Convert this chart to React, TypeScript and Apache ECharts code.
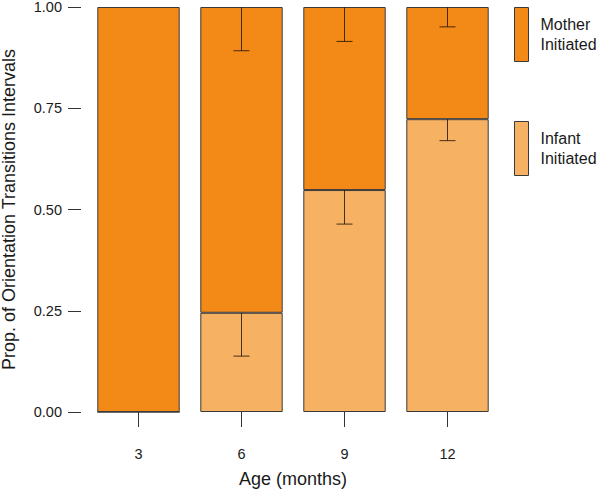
import React, { useEffect, useRef } from "react";
import * as echarts from "echarts";

const ages = ["3", "6", "9", "12"];
const infantInitiated = [0, 0.245, 0.548, 0.723];
const motherInitiated = [1, 0.755, 0.452, 0.277];
const infantErr = [0, 0.107, 0.084, 0.053];
const motherErr = [0, 0.108, 0.085, 0.049];
const yTicks = [0, 0.25, 0.5, 0.75, 1];

const FONT = "'Liberation Sans', Arial, Helvetica, sans-serif";
const DARK = "#F38A18";
const LIGHT = "#F6B163";
const BORDER = "#3a3a3a";
const TXT = "#1a1a1a";

export default function App() {
  const ref = useRef<HTMLDivElement>(null);
  useEffect(() => {
    document.body.style.margin = "0";
    const chart = echarts.init(ref.current!, null, { renderer: "svg" });
    const errData: number[][] = [];
    ages.forEach((_, i) => {
      if (infantErr[i] > 0) {
        errData.push([i, infantInitiated[i], infantInitiated[i] - infantErr[i]]);
      }
      if (motherErr[i] > 0) {
        const top = infantInitiated[i] + motherInitiated[i];
        errData.push([i, top, top - motherErr[i]]);
      }
    });
    chart.setOption({
      animation: false,
      textStyle: { fontFamily: FONT },
      grid: { left: 87, right: 101, top: 7, bottom: 83, outerBoundsMode: "none", containLabel: false },
      legend: {
        data: ["Mother Initiated", "Infant Initiated"],
        orient: "vertical",
        left: 514,
        top: 7,
        padding: 0,
        itemWidth: 14,
        itemHeight: 54,
        itemGap: 59,
        icon: "rect",
        selectedMode: false,
        formatter: (n: string) => n.replace(" ", "\n"),
        textStyle: {
          fontFamily: FONT,
          fontSize: 16,
          lineHeight: 20,
          color: TXT,
          padding: [0, 0, 0, 7],
        },
        itemStyle: { borderColor: BORDER, borderWidth: 1 },
      },
      xAxis: {
        type: "category",
        data: ages,
        offset: 13,
        axisLine: { show: false },
        axisTick: {
          show: true,
          alignWithLabel: true,
          length: 15,
          lineStyle: { color: "#333", width: 1 },
        },
        axisLabel: { fontSize: 14.5, color: TXT, margin: 21, fontFamily: FONT },
        name: "Age (months)",
        nameLocation: "middle",
        nameGap: 45,
        nameTextStyle: { fontSize: 18, color: TXT, fontFamily: FONT },
        splitLine: { show: false },
      },
      yAxis: {
        type: "value",
        min: yTicks[0],
        max: yTicks[yTicks.length - 1],
        interval: 0.25,
        offset: 6,
        axisLine: { show: false },
        axisTick: { show: true, length: 13, lineStyle: { color: "#333", width: 1 } },
        axisLabel: {
          fontSize: 14.5,
          color: TXT,
          margin: 19,
          fontFamily: FONT,
          formatter: (v: number) => v.toFixed(2),
        },
        splitLine: { show: false },
        name: "Prop. of Orientation Transitions Intervals",
        nameLocation: "middle",
        nameGap: 63,
        nameTextStyle: { fontSize: 18, color: TXT, fontFamily: FONT },
      },
      series: [
        {
          name: "Infant Initiated",
          type: "bar",
          stack: "total",
          barWidth: "80%",
          data: infantInitiated,
          itemStyle: { color: LIGHT, borderColor: BORDER, borderWidth: 1 },
        },
        {
          name: "Mother Initiated",
          type: "bar",
          stack: "total",
          barWidth: "80%",
          data: motherInitiated,
          itemStyle: { color: DARK, borderColor: BORDER, borderWidth: 1 },
        },
        {
          name: "err",
          type: "custom",
          z: 5,
          data: errData,
          renderItem: (params: any, api: any) => {
            const x = api.value(0);
            const p1 = api.coord([x, api.value(1)]);
            const p2 = api.coord([x, api.value(2)]);
            const style = { stroke: "rgba(40,25,5,0.85)", lineWidth: 1 };
            return {
              type: "group",
              children: [
                { type: "line", shape: { x1: p1[0], y1: p1[1], x2: p2[0], y2: p2[1] }, style },
                { type: "line", shape: { x1: p2[0] - 8, y1: p2[1], x2: p2[0] + 8, y2: p2[1] }, style },
              ],
            };
          },
        },
      ],
    });
    return () => chart.dispose();
  }, []);
  return <div ref={ref} style={{ width: 600, height: 495 }} />;
}
